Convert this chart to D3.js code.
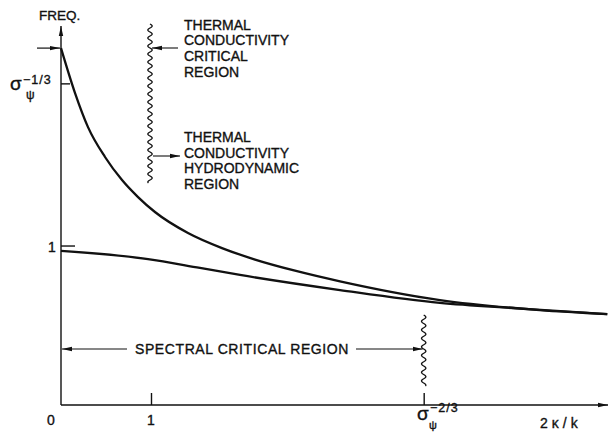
<!DOCTYPE html>
<html>
<head>
<meta charset="utf-8">
<script src="https://cdn.jsdelivr.net/npm/d3@7"></script>
<style>
  html, body { margin: 0; padding: 0; background: #fff; }
  svg { display: block; }
  text { font-family: "Liberation Sans", Arial, sans-serif; fill: #111; stroke: #111; stroke-width: 0.35; }
</style>
</head>
<body>
<svg id="chart" width="609" height="432"></svg>
<script>
// ---- data ----
// horizontal axis: 2κ/k ; vertical axis: frequency
const upperX = [0, 0.156, 0.30, 0.489, 0.678, 0.856, 1.044, 1.411, 1.789, 2.156, 2.6, 3.10, 4.21, 5.32, 6.07];
const upperY = [2.245, 1.962, 1.748, 1.560, 1.415, 1.308, 1.214, 1.082, 0.987, 0.915, 0.845, 0.778, 0.660, 0.597, 0.572];
const lowerX = [0, 0.967, 1.544, 1.989, 3.10, 4.21, 5.07, 6.07];
const lowerY = [0.969, 0.918, 0.862, 0.818, 0.723, 0.642, 0.608, 0.572];
const xTickValues = [1, 4.03];          // 1, σψ^-2/3
const yTickValues = [1, 2.02];          // 1, σψ^-1/3
const xTickLabels = ["1", "σ"];
const yTickLabels = ["1", "σ"];
const thermalCriticalText = ["THERMAL", "CONDUCTIVITY", "CRITICAL", "REGION"];
const thermalHydroText = ["THERMAL", "CONDUCTIVITY", "HYDRODYNAMIC", "REGION"];
const spectralText = "SPECTRAL CRITICAL REGION";
const thermalBoundaryX = 1;             // wavy boundary between thermal regions

// ---- layout ----
const svg = d3.select("#chart");
const x = d3.scaleLinear().domain([0, 6.078]).range([61, 608]);
const y = d3.scaleLinear().domain([0, 2.384]).range([405, 26]);

const defs = svg.append("defs");
defs.append("marker").attr("id", "arr")
  .attr("viewBox", "0 0 10 6").attr("refX", 10).attr("refY", 3)
  .attr("markerWidth", 10).attr("markerHeight", 6).attr("markerUnits", "userSpaceOnUse")
  .attr("orient", "auto")
  .append("path").attr("d", "M0,0.8 L10,3 L0,5.2 Z").attr("fill", "#111");

const ink = "#111";

// axes (domain lines with arrow heads)
svg.append("line").attr("x1", x(0)).attr("y1", y(0)).attr("x2", x(0)).attr("y2", y(2.384))
  .attr("stroke", ink).attr("stroke-width", 1.4).attr("marker-end", "url(#arr)");
svg.append("line").attr("x1", x(0)).attr("y1", y(0)).attr("x2", x(6.078)).attr("y2", y(0))
  .attr("stroke", ink).attr("stroke-width", 1.4).attr("marker-end", "url(#arr)");

// x ticks (pointing upward, inside)
const xAxis = d3.axisBottom(x).tickValues(xTickValues).tickSizeInner(-12).tickSizeOuter(0).tickFormat("");
const gx = svg.append("g").attr("transform", `translate(0,${y(0)})`).call(xAxis);
gx.select(".domain").remove();
gx.selectAll(".tick line").attr("stroke", ink).attr("stroke-width", 1.4);

// y ticks (pointing right, inside) - different lengths
const yTickLen = [14, 9];
yTickValues.forEach((v, i) => {
  svg.append("line").attr("x1", x(0)).attr("x2", x(0) + yTickLen[i])
    .attr("y1", y(v)).attr("y2", y(v)).attr("stroke", ink).attr("stroke-width", 1.4);
});

// curves
const line = d3.line().x(d => x(d[0])).y(d => y(d[1])).curve(d3.curveMonotoneX);
svg.append("path").datum(upperX.map((v, i) => [v, upperY[i]]))
  .attr("d", line).attr("fill", "none").attr("stroke", ink).attr("stroke-width", 2.3);
svg.append("path").datum(lowerX.map((v, i) => [v, lowerY[i]]))
  .attr("d", line).attr("fill", "none").attr("stroke", ink).attr("stroke-width", 2.3);

// wavy boundary generator
function wavy(px, y0, y1, amp, wl) {
  const pts = [];
  for (let t = y0; t <= y1; t += 0.5) pts.push([px + amp * Math.sin((t - y0) / wl * 2 * Math.PI), t]);
  return d3.line()(pts);
}
svg.append("path").attr("d", wavy(x(thermalBoundaryX) - 1, 24, 183, 2.2, 8))
  .attr("fill", "none").attr("stroke", ink).attr("stroke-width", 1.3);
svg.append("path").attr("d", wavy(x(xTickValues[1]), 315, 386, 2.2, 8.5))
  .attr("fill", "none").attr("stroke", ink).attr("stroke-width", 1.3);

// arrow pointing at the curve start on the y axis
svg.append("line").attr("x1", 37).attr("x2", x(0) - 1).attr("y1", y(upperY[0])).attr("y2", y(upperY[0]))
  .attr("stroke", ink).attr("stroke-width", 1.2).attr("marker-end", "url(#arr)");

// thermal labels & arrows
svg.append("line").attr("x1", 178).attr("x2", 152).attr("y1", 48).attr("y2", 48)
  .attr("stroke", ink).attr("stroke-width", 1.1).attr("marker-end", "url(#arr)");
svg.append("line").attr("x1", 153).attr("x2", 180).attr("y1", 156).attr("y2", 156)
  .attr("stroke", ink).attr("stroke-width", 1.1).attr("marker-end", "url(#arr)");
thermalCriticalText.forEach((t, i) => {
  svg.append("text").attr("x", 184).attr("y", 29.5 + i * 15.8).attr("font-size", 14).text(t);
});
thermalHydroText.forEach((t, i) => {
  svg.append("text").attr("x", 184).attr("y", 141.8 + i * 15.8).attr("font-size", 14).text(t);
});

// spectral critical region
svg.append("text").attr("x", 242).attr("y", 354).attr("font-size", 14)
  .attr("text-anchor", "middle").attr("letter-spacing", 0.6).text(spectralText);
svg.append("line").attr("x1", 127).attr("x2", x(0) + 1).attr("y1", 349).attr("y2", 349)
  .attr("stroke", ink).attr("stroke-width", 1.1).attr("marker-end", "url(#arr)");
svg.append("line").attr("x1", 356).attr("x2", x(xTickValues[1]) - 1).attr("y1", 349).attr("y2", 349)
  .attr("stroke", ink).attr("stroke-width", 1.1).attr("marker-end", "url(#arr)");

// axis titles
svg.append("text").attr("x", 39).attr("y", 20).attr("font-size", 13.5).text("FREQ.");
svg.append("text").attr("x", 540).attr("y", 428).attr("font-size", 14).attr("letter-spacing", 4).text("2κ/k");

// tick labels
svg.append("text").attr("x", x(0) - 10).attr("y", 425).attr("font-size", 14).attr("text-anchor", "middle").text("0");
svg.append("text").attr("x", x(xTickValues[0])).attr("y", 425).attr("font-size", 14).attr("text-anchor", "middle").text(xTickLabels[0]);
svg.append("text").attr("x", 52).attr("y", y(yTickValues[0]) + 6).attr("font-size", 14).attr("text-anchor", "middle").text(yTickLabels[0]);

// σψ^-1/3 (y)
const yl = svg.append("g");
yl.append("text").attr("x", 10).attr("y", 90).attr("font-size", 19).text(yTickLabels[1]);
yl.append("text").attr("x", 23).attr("y", 84).attr("font-size", 12.5).attr("letter-spacing", 1).text("−1/3");
yl.append("text").attr("x", 26).attr("y", 99).attr("font-size", 12).text("ψ");

// σψ^-2/3 (x)
const xl = svg.append("g");
xl.append("text").attr("x", 417).attr("y", 420).attr("font-size", 19).text(xTickLabels[1]);
xl.append("text").attr("x", 430).attr("y", 412).attr("font-size", 12.5).attr("letter-spacing", 1).text("−2/3");
xl.append("text").attr("x", 429).attr("y", 429).attr("font-size", 11).text("ψ");
</script>
</body>
</html>
